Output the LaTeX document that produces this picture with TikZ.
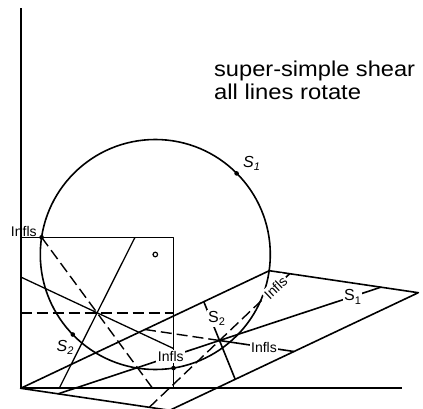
\documentclass[tikz,border=0pt]{standalone}
\usepackage{fontspec}
\setmainfont{Liberation Sans}
\usepackage{graphicx}
\newcommand{\SSub}[2]{#1\raisebox{-0.4ex}{\fontsize{11}{11}\selectfont #2}}
\newcommand{\ISub}[2]{{\itshape #1}\raisebox{-0.4ex}{\fontsize{11}{11}\selectfont\itshape #2}}
\begin{document}
\begin{tikzpicture}[x=1pt,y=-1pt,line join=round,line width=1.3pt,
  thickline/.style={line width=1.6pt},
  dashline/.style={line width=1.4pt,dash pattern=on 11pt off 5pt},
  dotmark/.style={circle,fill=black,inner sep=0pt,minimum size=4.6pt},
  lbl/.style={font=\fontsize{14}{14}\selectfont,inner sep=1pt},
  wlbl/.style={lbl,fill=white,inner sep=1.5pt},
  title/.style={font=\fontsize{21.5}{21.5}\selectfont,inner sep=0pt,anchor=base west}]
\useasboundingbox (0,0) rectangle (423,409);
\clip (0,0) rectangle (423,409);
% key points
\coordinate (ytop) at (20.7,8.3);
\coordinate (O) at (20.7,388.3);
\coordinate (xend) at (401.7,388.3);
\coordinate (TL) at (20.7,237.3);
\coordinate (TR) at (173.5,237.3);
\coordinate (BR) at (173.5,388.3);
\coordinate (T) at (269.3,270.7);
\coordinate (R) at (418.3,292.7);
\coordinate (B) at (169.7,410.3);
\coordinate (P) at (219.5,340.5);
% axes
\draw[line width=1.7pt] (ytop) -- (O) -- (xend);
% square
\draw[line width=1.1pt] (TL) -- (TR) -- (BR);
\coordinate (h1) at (20.7,312.8); \coordinate (h2) at (173.5,312.8);
\draw[dashline] (h1) -- (h2);
\coordinate (d1) at (41.6,237.3); \coordinate (d2) at (152.6,388.3);
\draw[dashline] (d1) -- (d2);
\coordinate (s1a) at (135,237.3); \coordinate (s1b) at (59.2,388.3);
\draw (s1a) -- (s1b);
\coordinate (s2a) at (20.7,277); \coordinate (s2b) at (173.5,348.5);
\draw (s2a) -- (s2b);
% circle
\coordinate (C) at (155.3,254.5);
\draw[line width=1.6pt] (C) circle[radius=115];
\node[circle,draw,inner sep=0pt,minimum size=4.6pt,line width=1.2pt] (cm) at (C) {};
% parallelogram
\draw[thickline] (B) -- (O) -- (T) -- (R) -- cycle;
% deformed lines
\coordinate (h1p) at (145,329.5); \coordinate (h2p) at (294,351.5);
\draw[dashline] (h1p) -- (P);
\draw[thickline] (P) -- (h2p);
\node[wlbl] (infH) at (264,347.1) {Infls};
\coordinate (d1p) at (289.7,273.7); \coordinate (d2p) at (149.3,407.3);
\draw[dashline] (d2p) -- (d1p);
\coordinate (d1q) at (282,281);
\draw[thickline] (d1q) -- (d1p);
\node[wlbl,rotate=43.6] (infD) at (275.6,287.6) {Infls};
\coordinate (s1pa) at (380.8,287.2); \coordinate (s1pb) at (58.2,393.8);
\draw[thickline] (s1pb) -- (s1pa);
\node[wlbl,font=\fontsize{16}{16}\selectfont] (S1p) at (352.5,296.8) {\SSub{S}{1}};
\coordinate (s2pa) at (203.8,301.7); \coordinate (s2pb) at (235.2,379.3);
\draw[thickline] (s2pa) -- (s2pb);
\node[wlbl,font=\fontsize{16}{16}\selectfont] (S2p) at (216.5,318.5) {\SSub{S}{2}};
% circle points
\node[dotmark] (pI1) at (41.6,237.3) {};
\node[lbl] (lI1) at (23.8,231) {Infls};
\node[dotmark] (pS1) at (236.6,173.4) {};
\node[lbl,font=\fontsize{16}{16}\selectfont] (lS1) at (251.5,163.5) {\ISub{S}{1}};
\node[dotmark] (pS2) at (72.8,334.5) {};
\node[lbl,font=\fontsize{16}{16}\selectfont] (lS2) at (65,347.5) {\ISub{S}{2}};
\node[wlbl] (lI2) at (170.8,356.3) {Infls};
\node[dotmark] (pI2) at (173.5,368.1) {};
% title
\node[title] (t1) at (213.5,77) {\resizebox{201pt}{\height}{super-simple shear}};
\node[title] (t2) at (213.5,100) {\resizebox{147pt}{\height}{all lines rotate}};
\end{tikzpicture}
\end{document}
